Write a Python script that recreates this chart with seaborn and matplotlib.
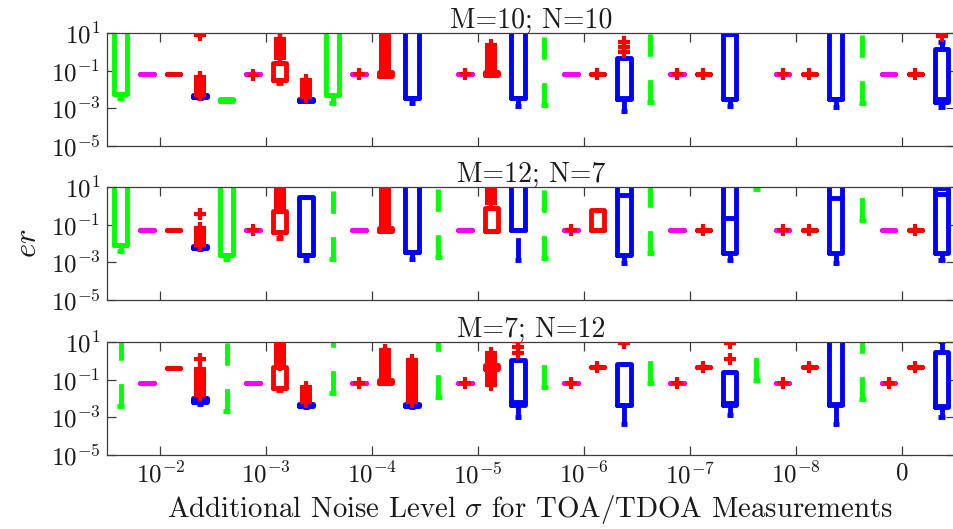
import numpy as np
import pandas as pd
import matplotlib
matplotlib.use("Agg")
import matplotlib.pyplot as plt
import seaborn as sns

# ---------------------------------------------------------------- data
levels = [r"$10^{-2}$", r"$10^{-3}$", r"$10^{-4}$", r"$10^{-5}$",
          r"$10^{-6}$", r"$10^{-7}$", r"$10^{-8}$", r"$0$"]
method_colors = ["#00ff00", "#ff00ff", "#ff0000", "#0000ff"]
titles = ["M=10; N=10", "M=12; N=7", "M=7; N=12"]

OFF = 50.0  # statistic lying above the plotted range

# M=10; N=10  (order inside each noise level: green, magenta, red, blue)
lo_a = [3.5e-3, .07, .07, 3.5e-3,   2.4e-3, .07, .024, 2.4e-3,
        2e-3, .07, .055, 2e-3,      OFF, .07, .06, 1.4e-3,
        1.5e-3, .07, .07, 7.6e-4,   2.3e-3, .07, .07, 1.4e-3,
        OFF, .07, .07, 1.2e-3,      2e-3, .07, .07, 1.2e-3]
q1_a = [6e-3, .07, .07, 4e-3,       2.6e-3, .07, .033, 2.6e-3,
        5.2e-3, .07, .055, 3.6e-3,  OFF, .07, .06, 3.6e-3,
        OFF, .07, .07, 3.2e-3,      OFF, .07, .07, 3.2e-3,
        OFF, .07, .07, 3.2e-3,      OFF, .07, .07, 2.2e-3]
med_a = [6e-3, .07, .07, 4.5e-3,    2.8e-3, .07, .033, 2.8e-3,
         5.2e-3, .07, .07, 3.6e-3,  OFF, .07, .07, 3.6e-3,
         OFF, .07, .07, 3.6e-3,     OFF, .07, .07, 3.2e-3,
         OFF, .07, .07, 3.2e-3,     OFF, .07, .07, 3.2e-3]
q3_a = [OFF, .07, .07, 5.5e-3,      3.1e-3, .07, .27, 3.2e-3,
        OFF, .07, .09, OFF,         OFF, .07, .085, OFF,
        OFF, .07, .07, .47,         OFF, .07, .07, 9.0,
        OFF, .07, .07, OFF,         OFF, .07, .07, 1.4]
hi_a = [OFF, .07, .07, 5.5e-3,      3.1e-3, .07, .27, 3.2e-3,
        OFF, .07, .09, OFF,         OFF, .07, .085, OFF,
        OFF, .07, .07, .47,         OFF, .07, .07, 9.0,
        OFF, .07, .07, OFF,         OFF, .07, .07, 3.6]
out_a = {4: [5.5e-3, 7e-3, 9e-3, .012, .016, .021, .028, .037, .05, 8.5],
         6: [.062],
         7: [.5, .7, 1.0, 1.4, 2.0, 2.8, 3.8, 5.2, 12.0],
         8: [4e-3, 5.5e-3, 7.5e-3, .01, .014, .019, .026, .033],
         10: [.07],
         11: [.12, .17, .24, .33, .46, .65, .9, 1.25, 1.75, 2.4, 3.4, 4.7, 6.5, 9.0],
         14: [.07],
         15: [.11, .15, .2, .28, .38, .52, .72, 1.0, 1.4, 2.4],
         19: [.07], 20: [1.05, 1.9, 3.5], 22: [.07], 23: [.07],
         26: [.07], 27: [.07], 31: [.07], 32: [7.5]}

# M=12; N=7
lo_b = [4e-3, .056, .056, 5.5e-3,   1.6e-3, .056, .019, 1.4e-3,
        1.6e-3, .056, .045, 1.6e-3, 1.9e-3, .056, .045, 1.3e-3,
        1.8e-3, .056, .053, 9.3e-4, 3e-3, .056, .056, 1.4e-3,
        8.0, .056, .056, 9.3e-4,    .18, .056, .056, 1.4e-3]
q1_b = [8e-3, .056, .056, 6e-3,     2.4e-3, .056, .043, 2.4e-3,
        OFF, .056, .045, 3.6e-3,    OFF, .056, .045, .056,
        OFF, .056, .053, 2.4e-3,    OFF, .056, .056, 3e-3,
        OFF, .056, .056, 3e-3,      OFF, .056, .056, 3e-3]
med_b = [8e-3, .056, .056, 6.6e-3,  2.4e-3, .056, .043, 2.4e-3,
         OFF, .056, .056, 3.6e-3,   OFF, .056, .045, .056,
         OFF, .056, .053, 3.9,      OFF, .056, .056, .22,
         OFF, .056, .056, 2.6,      OFF, .056, .056, 4.5]
q3_b = [OFF, .056, .056, 7.5e-3,    OFF, .056, .54, 2.9,
        OFF, .056, .07, OFF,        OFF, .056, .76, OFF,
        OFF, .056, .61, OFF,        OFF, .056, .056, OFF,
        OFF, .056, .056, OFF,       OFF, .056, .056, 9.5]
hi_b = [OFF, .056, .056, 7.5e-3,    OFF, .056, .54, 2.9,
        OFF, .056, .07, OFF,        OFF, .056, .76, OFF,
        OFF, .056, .61, OFF,        OFF, .056, .056, OFF,
        OFF, .056, .056, OFF,       OFF, .056, .056, 9.5]
out_b = {4: [8.5e-3, .011, .015, .02, .027, .036, .048, .065, .4],
         6: [.056],
         7: [.75, 1.0, 1.6, 2.2, 3.0, 4.2, 5.8, 8.0],
         11: [.09, .13, .18, .25, .35, .5, .7, 1.0, 1.45, 2.0, 2.8, 3.9, 5.4, 7.5, 10.0],
         15: [1.5, 2.0, 2.8, 4.0, 6.0, 9.0],
         18: [.056], 23: [.056], 26: [.056], 27: [.056], 31: [.056]}

# M=7; N=12
lo_c = [4e-3, .069, .44, 5e-3,      2.2e-3, .069, .03, 3.5e-3,
        .019, .069, .065, 3.5e-3,   .012, .069, .4, 1e-3,
        .043, .069, .5, 4.3e-4,     .069, .069, .5, 1.3e-3,
        .096, .069, .5, 4.3e-4,     9.3e-3, .069, .5, 1e-3]
q1_c = [OFF, .069, .44, 7e-3,       OFF, .069, .035, 4e-3,
        OFF, .069, .065, 4e-3,      OFF, .069, .4, 4.5e-3,
        OFF, .069, .5, 4.5e-3,      OFF, .069, .5, 4.5e-3,
        OFF, .069, .5, 4.5e-3,      OFF, .069, .5, 3.6e-3]
med_c = [OFF, .069, .44, 9e-3,      OFF, .069, .035, 4.5e-3,
         OFF, .069, .079, 4.5e-3,   OFF, .069, .5, 6.6e-3,
         OFF, .069, .5, 4.5e-3,     OFF, .069, .5, 6e-3,
         OFF, .069, .5, 5.5e-3,     OFF, .069, .5, 4.2e-3]
q3_c = [OFF, .069, .44, .011,       OFF, .069, .46, 5.2e-3,
        OFF, .069, .1, 5.2e-3,      OFF, .069, .6, 1.1,
        OFF, .069, .5, .69,         OFF, .069, .5, .27,
        OFF, .069, .5, OFF,         OFF, .069, .5, 3.2]
hi_c = [OFF, .069, .44, .011,       OFF, .069, .46, 5.2e-3,
        OFF, .069, .1, 5.2e-3,      OFF, .069, .6, 1.1,
        OFF, .069, .5, .69,         OFF, .069, .5, .27,
        OFF, .069, .5, OFF,         OFF, .069, .5, 12.0]
out_c = {4: [.015, .02, .027, .036, .048, .065, .087, .12, .16, .21, .29, .39, 1.3],
         7: [.65, .9, 1.3, 1.8, 2.6, 3.6, 5.0, 7.0, 10.0],
         8: [6.6e-3, 9e-3, .012, .016, .022, .03, .04],
         10: [.069],
         11: [.13, .18, .25, .35, .5, .7, 1.0, 1.4, 2.0, 2.8, 3.7],
         12: [6.6e-3, 9e-3, .012, .017, .024, .034, .048, .068, .095, .13,
              .19, .27, .38, .55, .78, 1.1],
         14: [.069],
         15: [.055, .08, .13, .2, .3, 1.0, 1.6, 2.6],
         16: [2.6, 5.8, 12.0],
         18: [.069], 19: [.5], 20: [8.8], 22: [.069], 23: [.5],
         24: [1.23, 8.8], 26: [.069], 27: [.5], 30: [.069], 31: [.5]}

panels = [(lo_a, q1_a, med_a, q3_a, hi_a, out_a),
          (lo_b, q1_b, med_b, q3_b, hi_b, out_b),
          (lo_c, q1_c, med_c, q3_c, hi_c, out_c)]

# ---------------------------------------------------------------- style
sns.set_theme(style="ticks")
plt.rcParams.update({
    "font.family": ["cmr10", "DejaVu Serif"],
    "mathtext.fontset": "cm",
    "axes.formatter.use_mathtext": True,
    "axes.edgecolor": "#3c3c3c",
    "axes.linewidth": 0.9,
    "xtick.color": "#3c3c3c",
    "ytick.color": "#3c3c3c",
    "xtick.labelcolor": "#1a1a1a",
    "ytick.labelcolor": "#1a1a1a",
    "text.color": "#1a1a1a",
})

LW = 3.5
TICK_FS = 18
TEXT_FS = 20
n_pos = 4 * len(levels)
positions = np.arange(1, n_pos + 1)
group_centers = [4 * g + 2.5 for g in range(len(levels))]

fig = plt.figure(figsize=(9.54, 5.29), dpi=100)
ax_left, ax_w, ax_h = 0.1125, 0.8886, 0.213
bottoms = [0.724, 0.4329, 0.1399]

for p, (lo, q1, med, q3, hi, outl) in enumerate(panels):
    ax = fig.add_axes([ax_left, bottoms[p], ax_w, ax_h])
    ax.set_yscale("log")

    for k, col in enumerate(method_colors):
        idx = [i for i in range(n_pos) if i % 4 == k]
        stats = [dict(whislo=lo[i], q1=q1[i], med=med[i], q3=q3[i],
                      whishi=hi[i], fliers=[]) for i in idx]
        art = ax.bxp(stats, positions=[positions[i] for i in idx],
                     widths=0.5, capwidths=0.25, showfliers=False,
                     manage_ticks=False,
                     boxprops=dict(color=col, lw=LW, solid_joinstyle="round",
                                   solid_capstyle="round"),
                     medianprops=dict(color=col, lw=LW, solid_capstyle="round"),
                     whiskerprops=dict(color=col, lw=LW, linestyle=(0, (4.6, 4.8)),
                                       dash_capstyle="butt"),
                     capprops=dict(color=col, lw=LW, solid_capstyle="butt"))
        # whisker dashes start from the adjacent value, not from the box
        for w in art["whiskers"]:
            w.set_xdata(np.asarray(w.get_xdata())[::-1])
            w.set_ydata(np.asarray(w.get_ydata())[::-1])

    flier_df = pd.DataFrame([(pos, v) for pos, vals in outl.items() for v in vals],
                            columns=["position", "er"])
    sns.scatterplot(data=flier_df, x="position", y="er", ax=ax, marker="+",
                    color="#ff0000", s=85, linewidth=3, zorder=5, legend=False)

    ax.set_xlim(0.5, n_pos + 0.5)
    ax.set_ylim(1e-5, 10)
    ax.set_yticks([10, 1e-1, 1e-3, 1e-5])
    ax.set_yticklabels([r"$10^{1}$", r"$10^{-1}$", r"$10^{-3}$", r"$10^{-5}$"])
    ax.yaxis.set_minor_locator(matplotlib.ticker.NullLocator())
    ax.set_xticks(group_centers)
    if p == len(panels) - 1:
        ax.set_xticklabels(levels)
    else:
        ax.set_xticklabels([])
    ax.tick_params(axis="both", which="both", direction="in", length=6.5,
                   width=0.9, top=True, right=True, labelsize=TICK_FS, pad=5)
    ax.set_xlabel("")
    ax.set_ylabel("")
    ax.set_title(titles[p], fontsize=TEXT_FS, pad=2)
    for s in ax.spines.values():
        s.set_visible(True)

fig.text(0.03, 0.54, r"$er$", rotation=90, fontsize=TEXT_FS + 2,
         ha="center", va="center")
fig.text(0.556, 0.037, r"Additional Noise Level $\sigma$ for TOA/TDOA Measurements",
         fontsize=20.8, ha="center", va="center")

fig.savefig("out.png", dpi=100)
